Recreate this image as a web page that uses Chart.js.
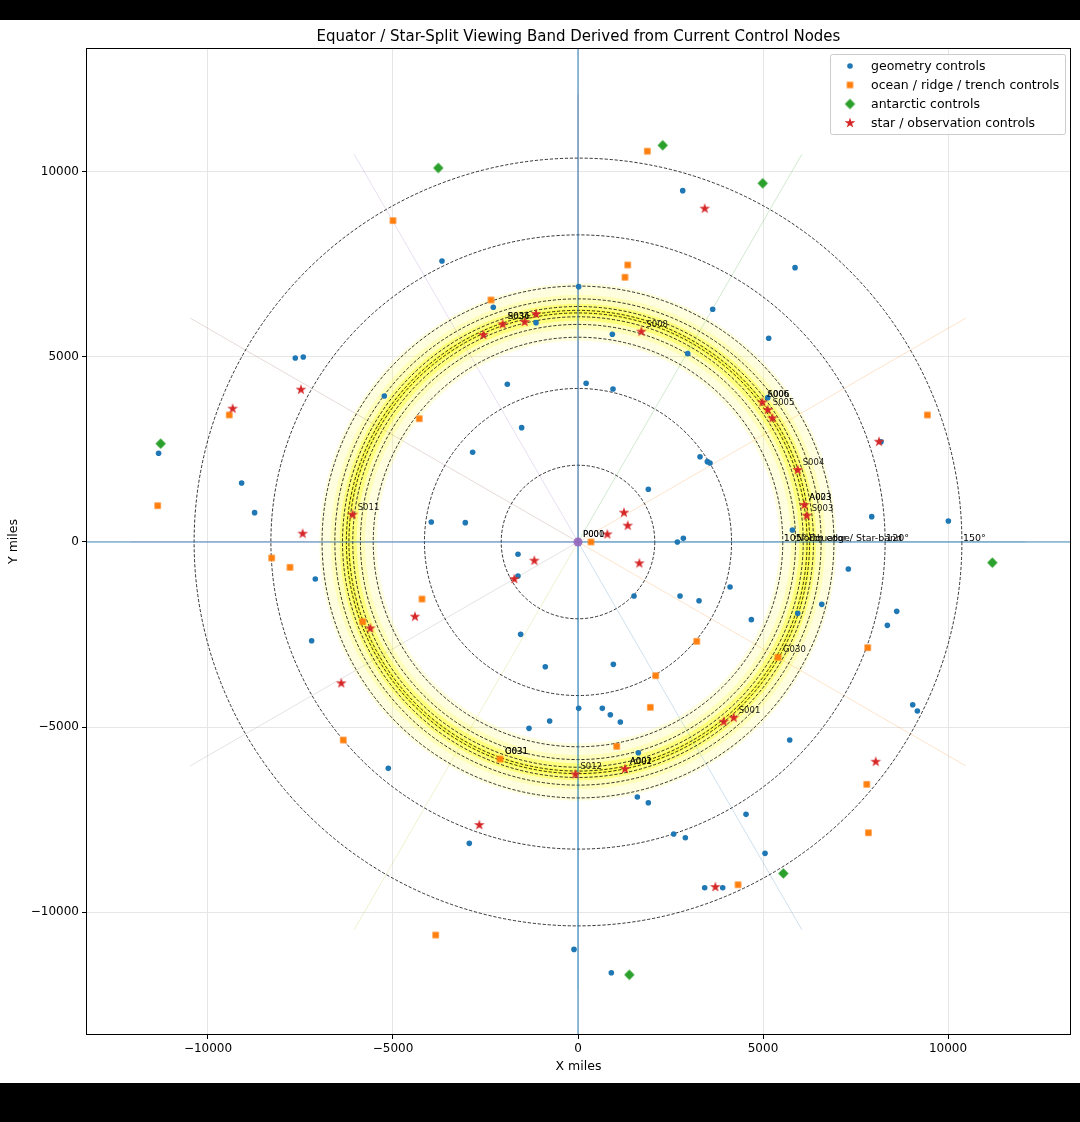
<!DOCTYPE html>
<html>
<head>
<meta charset="utf-8">
<script src="https://cdn.jsdelivr.net/npm/chart.js@4.4.0/dist/chart.umd.min.js"></script>
<style>
  html, body { margin: 0; background: #000; }
  #wrap { position: absolute; top: 20px; left: 0; width: 1080px; height: 1063px; background: #fff; }
</style>
</head>
<body>
<div id="wrap"><canvas id="myChart" width="1080" height="1063"></canvas></div>
<script>
// control nodes (miles)
const geoX = [-3676, 18, -2289, -1135, -7641, -7425, -1910, 220, -5235, -1523, -11335, -2847, -9091, -8740, -3965, -3046,
  2830, 5866, 3640, 928, 5154, 2965, 946, 5128, 3298, 3496, 3568, 1901, 8190, 7938, 10010, 5794, 2847, 2685,
  -1622, -1622, -7100, -7199, -1550, -884, 18, -766, -1324, -5127, -2938, -108,
  7306, 1514, 4109, 2757, 3271, 4685, 6587, 5938, 8614, 8361, 955, 657, 874, 1144, 9046, 9172, 5722, 1631, 1604,
  1901, 4541, 2586, 2901, 5055, 3424, 3911, 901];
const geoY = [7595, 6901, 6344, 5928, 4974, 5000, 4262, 4290, 3946, 3090, 2397, 2424, 1595, 793, 541, 523,
  9496, 7415, 6290, 5614, 5506, 5090, 4136, 3901, 2306, 2171, 2135, 1424, 2711, 685, 568, 324, 99, 0,
  -333, -919, -1000, -2667, -2496, -3370, -4496, -4838, -5037, -6118, -8145, -11010,
  -730, -1460, -1216, -1460, -1586, -2099, -1685, -1928, -1874, -2252, -3307, -4496, -4668, -4866, -4397, -4568, -5352, -5694, -6893,
  -7046, -7361, -7893, -7992, -8415, -9343, -9343, -11642];

const oceanX = [-5001, -2352, -9424, -4289, -11361, 1874, 1343, 1270, 9443, 351, -8280, -7785, -4217, -5820, -6343, -2108,
  -3847, 3208, 2099, 7830, 5406, 1955, 1045, 7803, 7848, 4325];
const oceanY = [8686, 6541, 3433, 3334, 982, 10561, 7487, 7154, 3433, 0, -432, -685, -1541, -2153, -5352, -5866,
  -10623, -2685, -3613, -2856, -3118, -4469, -5523, -6550, -7857, -9263];

const antX = [-3776, -11280, 2289, 4992, 11199, 5550, 1388];
const antY = [10109, 2658, 10722, 9695, -559, -8956, -11696];

const starX = [-1135, -1442, -2036, -2559, -7487, -9334, -6090, -7442, 3424, 1712, 4982, 5128, 5253, 8136, 5938, 6117, 6181,
  1243, 1343, 793, -1180, -1721, -4406, -5613, -6398, -2667, -70, 1658, 3938, 4208, 1270, 8047, 3712];
const starY = [6163, 5947, 5884, 5595, 4118, 3604, 739, 225, 9010, 5685, 3775, 3568, 3343, 2711, 1946, 1000, 712,
  793, 441, 207, -505, -1000, -2018, -2333, -3819, -7650, -6280, -577, -4857, -4749, -6136, -5938, -9325];

const centreX = [0];
const centreY = [0];

// node tags (series, index in that series, text)
const tagText   = ['S034', 'R036', 'S011', 'S008', 'S006', 'A006', 'S005', 'S004', 'A023', 'A003', 'S003', 'S012', 'S001', 'A001', 'A002', 'G031', 'O031', 'G030', 'P000', 'P001'];
const tagSeries = ['star', 'star', 'star', 'star', 'star', 'star', 'star', 'star', 'star', 'star', 'star', 'star', 'star', 'star', 'star', 'ocean', 'ocean', 'ocean', 'centre', 'centre'];
const tagIndex  = [2, 2, 6, 9, 10, 10, 11, 14, 15, 15, 16, 26, 29, 30, 30, 15, 15, 20, 0, 0];

// rings (miles from the pole) and band shading
const ringMiles = [2075, 4150, 5534, 5880, 6087, 6191, 6260, 6364, 6571, 6917, 8300, 10375];
const bandInner = [5440, 5757, 5980, 6150];
const bandOuter = [6990, 6685, 6440, 6300];
const bandAlpha = [0.12, 0.17, 0.33, 0.35];
const ringLabelMiles = [5534, 5880, 6225, 8300, 10375];
const ringLabelText = ['105°', 'North edge', 'Equator / Star-band', '120°', '150°'];
const spokeDeg = [0, 30, 60, 90, 120, 150, 180, 210, 240, 270, 300, 330];
const spokeMiles = 12100;

const tickValues = [-10000, -5000, 0, 5000, 10000];
const xMin = -13297, xMax = 13324, yMin = -13324, yMax = 13351;

const tab = ['#1f77b4', '#ff7f0e', '#2ca02c', '#d62728', '#9467bd', '#8c564b', '#e377c2', '#7f7f7f', '#bcbd22', '#17becf'];
const FONT = 'DejaVu Sans';

function makeMarker(shape, color, half) {
    const size = Math.ceil(half * 2 + 2);
    const c = document.createElement('canvas');
    c.width = c.height = size;
    const g = c.getContext('2d');
    const m = size / 2;
    g.fillStyle = color;
    g.beginPath();
    if (shape === 'square') {
        g.rect(m - half, m - half, half * 2, half * 2);
    } else if (shape === 'diamond') {
        g.moveTo(m, m - half);
        g.lineTo(m + half, m);
        g.lineTo(m, m + half);
        g.lineTo(m - half, m);
        g.closePath();
    } else if (shape === 'star') {
        for (let i = 0; i < 10; i++) {
            const r = i % 2 === 0 ? half : half * 0.382;
            const a = -Math.PI / 2 + i * Math.PI / 5;
            const px = m + r * Math.cos(a), py = m + r * Math.sin(a);
            if (i === 0) g.moveTo(px, py); else g.lineTo(px, py);
        }
        g.closePath();
    }
    g.fill();
    return c;
}

const squareImg = makeMarker('square', tab[1], 3.2);
const diamondImg = makeMarker('diamond', tab[2], 5.2);
const starImg = makeMarker('star', tab[3], 5.6);

const pts = (xs, ys) => xs.map((v, i) => ({ x: v, y: ys[i] }));
const seriesXY = { geo: [geoX, geoY], ocean: [oceanX, oceanY], ant: [antX, antY], star: [starX, starY], centre: [centreX, centreY] };

const guides = {
    id: 'guides',
    beforeDatasetsDraw(chart) {
        const { ctx, chartArea: a, scales: { x, y } } = chart;
        const cx = x.getPixelForValue(0), cy = y.getPixelForValue(0);
        const rx = m => x.getPixelForValue(m) - cx;
        const ry = m => cy - y.getPixelForValue(m);
        ctx.save();
        ctx.beginPath();
        ctx.rect(a.left, a.top, a.width, a.height);
        ctx.clip();

        // yellow viewing band
        bandInner.forEach((r0, i) => {
            ctx.beginPath();
            ctx.ellipse(cx, cy, rx(bandOuter[i]), ry(bandOuter[i]), 0, 0, Math.PI * 2);
            ctx.ellipse(cx, cy, rx(r0), ry(r0), 0, 0, Math.PI * 2, true);
            ctx.fillStyle = `rgba(255,255,0,${bandAlpha[i]})`;
            ctx.fill();
        });

        // spokes
        spokeDeg.forEach((d, i) => {
            const t = d * Math.PI / 180;
            ctx.beginPath();
            ctx.moveTo(cx, cy);
            ctx.lineTo(x.getPixelForValue(spokeMiles * Math.cos(t)), y.getPixelForValue(spokeMiles * Math.sin(t)));
            ctx.strokeStyle = tab[i % 10];
            ctx.globalAlpha = 0.28;
            ctx.lineWidth = 0.8;
            ctx.stroke();
        });
        ctx.globalAlpha = 1;

        // dashed rings
        ctx.setLineDash([3.2, 1.8]);
        ctx.strokeStyle = '#000';
        ctx.lineWidth = 0.8;
        ringMiles.forEach(r => {
            ctx.beginPath();
            ctx.ellipse(cx, cy, rx(r), ry(r), 0, 0, Math.PI * 2);
            ctx.stroke();
        });
        ctx.setLineDash([]);

        // axis cross
        ctx.strokeStyle = 'rgba(31,119,180,0.8)';
        ctx.lineWidth = 1.2;
        ctx.beginPath();
        ctx.moveTo(a.left, cy); ctx.lineTo(a.right, cy);
        ctx.moveTo(cx, a.top); ctx.lineTo(cx, a.bottom);
        ctx.stroke();
        ctx.restore();
    },
    afterDatasetsDraw(chart) {
        const { ctx, chartArea: a, scales: { x, y } } = chart;
        ctx.save();
        ctx.beginPath();
        ctx.rect(a.left, a.top, a.width, a.height);
        ctx.clip();
        ctx.fillStyle = '#000';

        // ring labels on the +x axis
        ctx.font = `9.5px "${FONT}"`;
        ctx.textBaseline = 'bottom';
        ctx.textAlign = 'left';
        ringLabelMiles.forEach((r, i) => {
            ctx.fillText(ringLabelText[i], x.getPixelForValue(r) + 1, y.getPixelForValue(0) + 1);
        });

        // node tags
        ctx.font = `8.5px "${FONT}"`;
        ctx.textBaseline = 'alphabetic';
        ctx.globalAlpha = 0.9;
        tagText.forEach((t, i) => {
            const [xs, ys] = seriesXY[tagSeries[i]];
            const px = x.getPixelForValue(xs[tagIndex[i]]);
            const py = y.getPixelForValue(ys[tagIndex[i]]);
            ctx.fillText(t, px + 5, py - 5);
        });
        ctx.restore();
    },
    afterDraw(chart) {
        const { ctx, chartArea: a } = chart;
        ctx.save();
        // frame
        ctx.strokeStyle = '#000';
        ctx.lineWidth = 1;
        ctx.strokeRect(a.left + 0.5, a.top + 0.5, a.width - 1, a.height - 1);

        // legend box, upper right
        const w = 235, h = 80;
        const lx = a.right - 6 - w, ly = a.top + 6;
        ctx.fillStyle = 'rgba(255,255,255,0.8)';
        ctx.strokeStyle = '#cccccc';
        ctx.beginPath();
        ctx.roundRect(lx + 0.5, ly + 0.5, w, h, 2);
        ctx.fill();
        ctx.stroke();
        const rows = chart.data.datasets.filter(d => d.inLegend);
        ctx.font = `12.5px "${FONT}"`;
        ctx.textBaseline = 'middle';
        ctx.textAlign = 'left';
        rows.forEach((d, i) => {
            const my = ly + 12 + i * 19;
            const mx = lx + 20;
            if (d.pointStyle === 'circle') {
                ctx.fillStyle = d.backgroundColor;
                ctx.beginPath();
                ctx.arc(mx, my, d.pointRadius, 0, Math.PI * 2);
                ctx.fill();
            } else {
                const img = d.pointStyle;
                ctx.drawImage(img, mx - img.width / 2, my - img.height / 2);
            }
            ctx.fillStyle = '#000';
            ctx.fillText(d.label, lx + 41, my + 1);
        });
        ctx.restore();
    }
};

const tickFmt = v => (v < 0 ? '\u2212' + Math.abs(v) : String(v));
const fixedTicks = s => { s.ticks = tickValues.map(v => ({ value: v })); };

function createChart() {
    const ctx = document.getElementById('myChart').getContext('2d');
    new Chart(ctx, {
        type: 'scatter',
        data: {
            datasets: [
                {
                    label: 'geometry controls',
                    data: pts(geoX, geoY),
                    pointStyle: 'circle',
                    pointRadius: 2.8,
                    backgroundColor: tab[0],
                    borderWidth: 0,
                    order: 3,
                    inLegend: true
                },
                {
                    label: 'ocean / ridge / trench controls',
                    data: pts(oceanX, oceanY),
                    pointStyle: squareImg,
                    order: 2,
                    inLegend: true
                },
                {
                    label: 'antarctic controls',
                    data: pts(antX, antY),
                    pointStyle: diamondImg,
                    order: 1,
                    inLegend: true
                },
                {
                    label: 'star / observation controls',
                    data: pts(starX, starY),
                    pointStyle: starImg,
                    order: 0,
                    inLegend: true
                },
                {
                    label: 'centre',
                    data: pts(centreX, centreY),
                    pointStyle: 'circle',
                    pointRadius: 4.5,
                    backgroundColor: 'rgba(148,103,189,0.9)',
                    borderWidth: 0,
                    order: -1,
                    inLegend: false
                }
            ]
        },
        options: {
            responsive: false,
            animation: false,
            events: [],
            layout: { padding: { left: 0, right: 9, top: 0, bottom: 0 } },
            scales: {
                x: {
                    type: 'linear',
                    min: xMin,
                    max: xMax,
                    afterBuildTicks: fixedTicks,
                    afterFit: s => { s.height = 48; },
                    ticks: {
                        maxRotation: 0,
                        autoSkip: false,
                        padding: 3,
                        color: '#000',
                        font: { family: FONT, size: 12 },
                        callback: tickFmt
                    },
                    grid: { color: '#e6e6e6', tickColor: '#000', tickLength: 4 },
                    border: { display: false },
                    title: {
                        display: true,
                        text: 'X miles',
                        color: '#000',
                        font: { family: FONT, size: 12.5 },
                        padding: { top: 0, bottom: 8.5 }
                    }
                },
                y: {
                    type: 'linear',
                    min: yMin,
                    max: yMax,
                    afterBuildTicks: fixedTicks,
                    afterFit: s => { s.width = 86; },
                    ticks: {
                        autoSkip: false,
                        padding: 3,
                        color: '#000',
                        font: { family: FONT, size: 12 },
                        callback: tickFmt
                    },
                    grid: { color: '#e6e6e6', tickColor: '#000', tickLength: 4 },
                    border: { display: false },
                    title: {
                        display: true,
                        text: 'Y miles',
                        color: '#000',
                        font: { family: FONT, size: 12.5 },
                        padding: { top: 6.5, bottom: 0 }
                    }
                }
            },
            plugins: {
                legend: { display: false },
                tooltip: { enabled: false },
                title: {
                    display: true,
                    text: 'Equator / Star-Split Viewing Band Derived from Current Control Nodes',
                    color: '#000',
                    fullSize: false,
                    font: { family: FONT, size: 15, weight: 'normal' },
                    padding: { top: 8, bottom: 2 }
                }
            }
        },
        plugins: [guides]
    });
}

document.addEventListener('DOMContentLoaded', createChart);
</script>
</body>
</html>
